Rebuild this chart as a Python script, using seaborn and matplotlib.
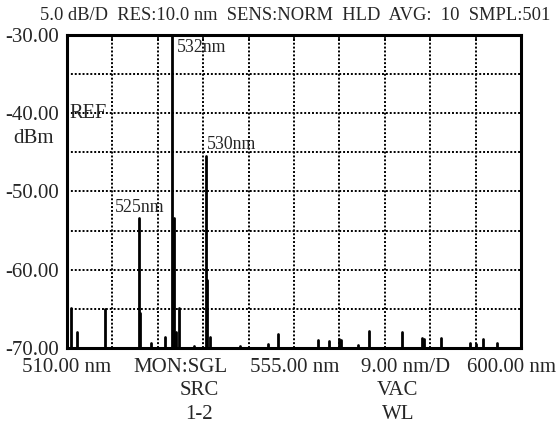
import numpy as np
import pandas as pd
import matplotlib
matplotlib.use("Agg")
import matplotlib.pyplot as plt
import seaborn as sns

# spectrum lines (nm, dBm)
wavelength = [510.8, 512.0, 517.5, 524.2, 524.5, 526.7, 529.4, 530.9, 531.15,
              531.6, 532.2, 535.2, 537.5, 537.75, 538.35, 544.2, 549.8, 551.9,
              559.7, 561.9, 564.0, 564.4, 567.6, 569.8, 576.5, 580.4, 580.85,
              584.1, 589.9, 591.1, 592.5, 595.3]
level = [-64.9, -67.9, -65.0, -53.4, -65.5, -69.3, -68.6, -29.0, -53.4,
         -67.9, -64.9, -69.7, -45.5, -61.3, -68.6, -69.8, -69.5, -68.2,
         -69.0, -69.1, -68.8, -69.0, -69.6, -67.8, -68.0, -68.7, -68.9,
         -68.7, -69.4, -69.5, -68.9, -69.3]

peak_labels = ["532nm", "530nm", "525nm"]
peak_label_wl = [531.7, 537.8, 519.4]
peak_label_db = [-31.6, -44.0, -52.0]

y_ticks = [-30, -40, -50, -60, -70]
x_bottom_labels = ["510.00 nm", "MON:SGL", "555.00 nm", "9.00 nm/D", "600.00 nm"]
x_bottom_pos = [510, 532.4, 555.2, 577.2, 598.2]
x_sub_labels = [("SRC", "1-2", 536.2), ("VAC", "WL", 575.6)]
header = "5.0 dB/D  RES:10.0 nm  SENS:NORM  HLD  AVG:  10  SMPL:501"

floor = -70.0

# each line goes from the floor up to its level
spec = pd.DataFrame({
    "wl": np.repeat(wavelength, 2),
    "dbm": np.ravel(np.column_stack([np.full(len(level), floor), level])),
    "line": np.repeat(np.arange(len(level)), 2),
})

sns.set_style("white")
plt.rcParams["font.family"] = ["Liberation Serif", "DejaVu Serif"]
plt.rcParams["font.size"] = 15

fig = plt.figure(figsize=(5.57, 4.22), dpi=100)
ax = fig.add_axes([0.1203, 0.1754, 0.8151, 0.7417])

sns.lineplot(data=spec, x="wl", y="dbm", units="line", estimator=None,
             sort=False, color="black", linewidth=2.0, ax=ax, legend=False)

ax.set_xlim(510, 600)
ax.set_ylim(-70, -30)

# dotted graticule, 10 x 8 divisions
for gx in np.arange(510, 601, 9)[1:-1]:
    ax.axvline(gx, color="black", lw=1.4, ls=(0, (1, 1)), zorder=0)
for gy in np.arange(-70, -29, 5)[1:-1]:
    ax.axhline(gy, color="black", lw=1.4, ls=(0, (1, 1)), zorder=0)

ax.set_xticks(np.arange(510, 601, 9))
ax.set_xticklabels([])
ax.tick_params(axis="x", direction="in", length=4, top=True, bottom=False,
               width=1.2, color="black")
ax.set_yticks(y_ticks)
ax.set_yticklabels([f"{t:.2f}" for t in y_ticks])
ax.tick_params(axis="y", length=0, pad=6, labelsize=15)
ax.set_xlabel("")
ax.set_ylabel("")

for s in ax.spines.values():
    s.set_color("black")
    s.set_linewidth(2.2)

for txt, wx, wy in zip(peak_labels, peak_label_wl, peak_label_db):
    ax.text(wx, wy, txt, ha="left", va="center", fontsize=12.8)

ax.text(510.5, -40, "REF", ha="left", va="center", fontsize=14.7)
ax.text(-0.074, -43.2, "dBm", transform=ax.get_yaxis_transform(),
        ha="center", va="center", fontsize=15)

bx = ax.get_xaxis_transform()
for txt, px in zip(x_bottom_labels, x_bottom_pos):
    ax.text(px, -0.063, txt, transform=bx, ha="center", va="center")
for top, bot, px in x_sub_labels:
    ax.text(px, -0.137, top, transform=bx, ha="center", va="center")
    ax.text(px, -0.211, bot, transform=bx, ha="center", va="center")

fig.text(0.5305, 0.964, header, ha="center", va="center", fontsize=13.3)

fig.savefig("out.png", dpi=100)
